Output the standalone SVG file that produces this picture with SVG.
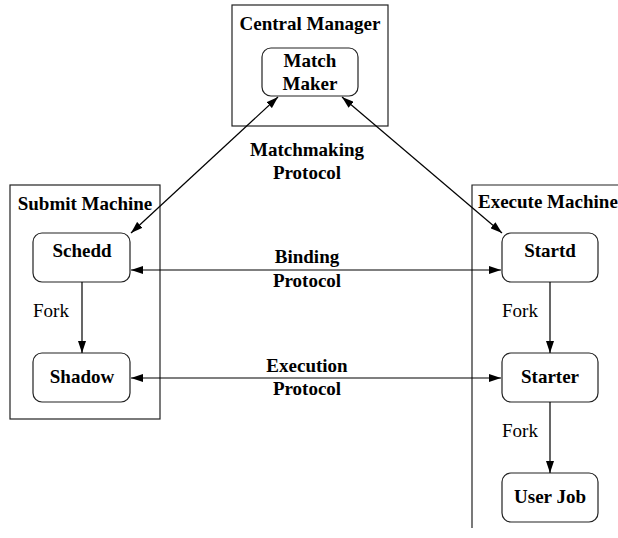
<svg xmlns="http://www.w3.org/2000/svg" width="618" height="538" viewBox="0 0 618 538">
<style>
.frame{fill:none;stroke:#222;stroke-width:1.2}
.node{fill:#fff;stroke:#222;stroke-width:1.2}
.t{font-family:"Liberation Serif","Times New Roman",serif;font-size:19px;font-weight:bold;fill:#000;text-anchor:middle}
.f{font-family:"Liberation Serif","Times New Roman",serif;font-size:19px;fill:#000}
.c{fill:none;stroke:#000;stroke-width:1.2}
</style>
<defs>
<marker id="ah" viewBox="0 0 12 8" refX="12" refY="4" markerWidth="12" markerHeight="8" markerUnits="userSpaceOnUse" orient="auto-start-reverse">
<path d="M0,0 L12,4 L0,8 z" fill="#000"/>
</marker>
</defs>
<g id="central-manager">
<rect class="frame" x="232" y="5" width="156" height="121"/>
<text class="t" x="310" y="30">Central Manager</text>
</g>
<g id="submit-machine">
<rect class="frame" x="10" y="185" width="150" height="234"/>
<text class="t" x="85" y="210">Submit Machine</text>
</g>
<g id="execute-machine">
<path class="frame" d="M618,185 H472 V528"/>
<text class="t" x="478" y="208" style="text-anchor:start">Execute Machine</text>
</g>
<g id="matchmaker">
<rect class="node" x="262" y="48" width="96" height="48" rx="9"/>
<text class="t" x="310" y="67">Match</text>
<text class="t" x="310" y="90">Maker</text>
</g>
<g id="schedd">
<rect class="node" x="33" y="233" width="97" height="49" rx="9"/>
<text class="t" x="82" y="257">Schedd</text>
</g>
<g id="shadow">
<rect class="node" x="33" y="353" width="97" height="49" rx="9"/>
<text class="t" x="82" y="383">Shadow</text>
</g>
<g id="startd">
<rect class="node" x="502" y="233" width="96" height="49" rx="9"/>
<text class="t" x="550" y="257">Startd</text>
</g>
<g id="starter">
<rect class="node" x="502" y="353" width="96" height="49" rx="9"/>
<text class="t" x="550" y="383">Starter</text>
</g>
<g id="userjob">
<rect class="node" x="502" y="473" width="96" height="49" rx="9"/>
<text class="t" x="550" y="503">User Job</text>
</g>
<g id="connectors">
<line class="c" x1="278" y1="97" x2="131" y2="233" marker-start="url(#ah)" marker-end="url(#ah)"/>
<line class="c" x1="342" y1="97" x2="502" y2="233" marker-start="url(#ah)" marker-end="url(#ah)"/>
<line class="c" x1="131" y1="270" x2="501" y2="270" marker-start="url(#ah)" marker-end="url(#ah)"/>
<line class="c" x1="131" y1="378" x2="501" y2="378" marker-start="url(#ah)" marker-end="url(#ah)"/>
<line class="c" x1="82" y1="282" x2="82" y2="353" marker-end="url(#ah)"/>
<line class="c" x1="550" y1="282" x2="550" y2="353" marker-end="url(#ah)"/>
<line class="c" x1="550" y1="402" x2="550" y2="473" marker-end="url(#ah)"/>
<text class="t" x="307" y="156">Matchmaking</text>
<text class="t" x="307" y="179">Protocol</text>
<text class="t" x="307" y="263">Binding</text>
<text class="t" x="307" y="287">Protocol</text>
<text class="t" x="307" y="372">Execution</text>
<text class="t" x="307" y="395">Protocol</text>
<text class="f" x="33" y="317">Fork</text>
<text class="f" x="502" y="317">Fork</text>
<text class="f" x="502" y="437">Fork</text>
</g>
</svg>
